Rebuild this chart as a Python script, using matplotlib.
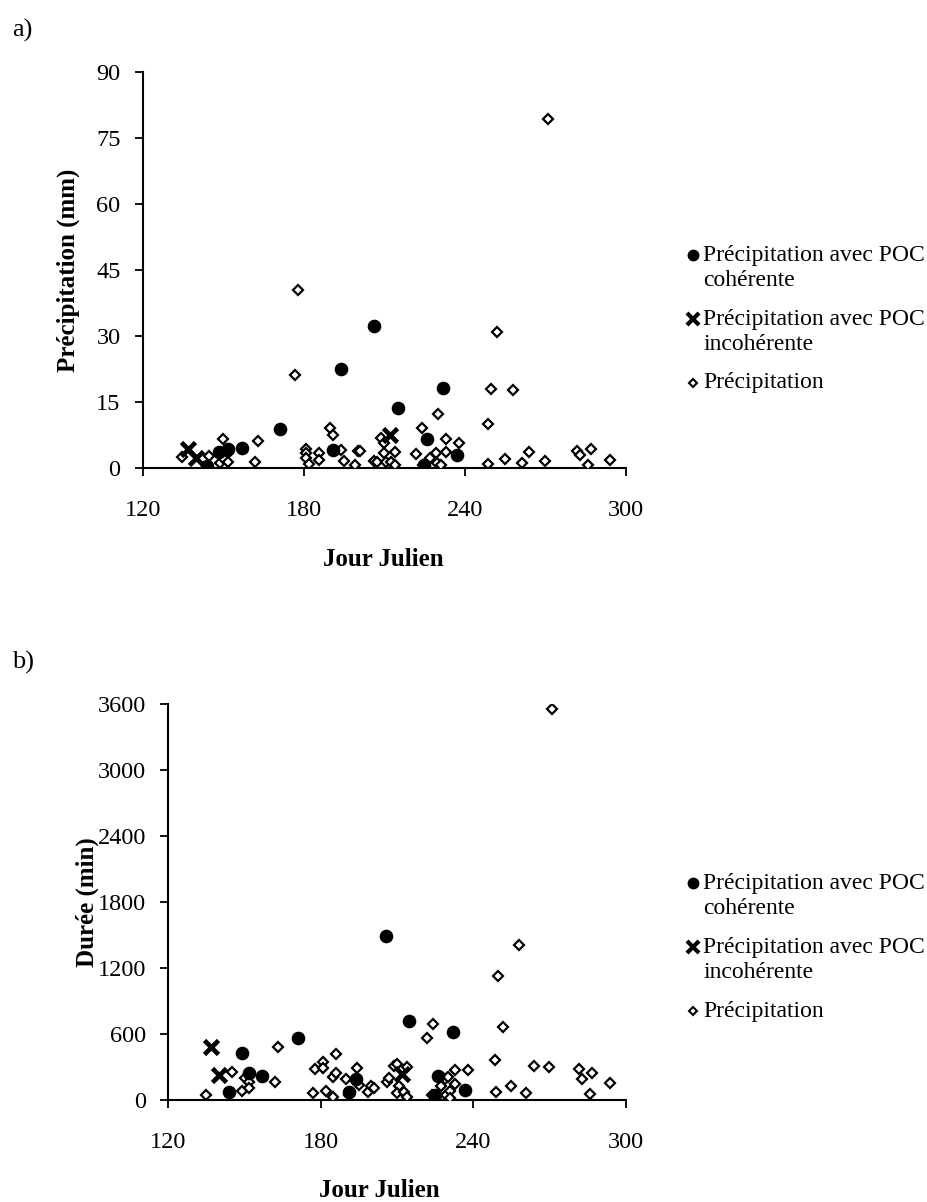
import matplotlib
matplotlib.use("Agg")
import matplotlib.pyplot as plt
from matplotlib.lines import Line2D

plt.rcParams['font.family'] = ['Liberation Serif', 'DejaVu Serif']

# ---------------- Panel a : Précipitation (mm) ----------------
a_coh_day = [144.1, 148.3, 151.9, 156.9, 171.0, 190.8, 193.9, 206.0, 215.0, 225.8, 224.8, 232.0, 237.1]
a_coh_val = [0.5, 3.6, 4.5, 4.6, 8.9, 4.2, 22.5, 32.4, 13.6, 6.7, 0.7, 18.2, 3.0]

a_inc_day = [136.8, 139.9, 212.1]
a_inc_val = [4.5, 2.3, 7.6]

a_pre_day = [134.8, 144.8, 148.8, 149.8, 150.0, 151.9, 151.7, 161.8, 162.8, 176.9,
             178.0, 180.8, 180.8, 180.8, 181.8, 185.7, 185.7, 189.8, 190.9, 193.9,
             195.0, 199.1, 200.1, 200.9, 206.1, 207.1, 208.7, 209.9, 209.9, 210.6,
             212.5, 213.8, 213.8, 221.8, 223.9, 224.5, 227.0, 229.1, 229.5, 230.1,
             231.0, 233.1, 233.1, 237.9, 248.7, 248.7, 249.9, 251.8, 254.9, 258.0,
             261.1, 264.0, 269.8, 270.8, 281.6, 282.8, 286.0, 286.8, 293.9]
a_pre_val = [2.5, 2.8, 1.3, 6.7, 2.3, 3.4, 1.5, 1.4, 6.1, 21.1,
             40.5, 4.5, 3.4, 2.4, 0.9, 3.4, 1.9, 9.1, 7.6, 4.2,
             1.7, 0.8, 4.0, 3.9, 1.7, 1.4, 7.0, 5.7, 3.4, 1.5,
             1.4, 3.6, 0.8, 3.3, 9.1, 0.8, 2.3, 3.4, 1.3, 12.3,
             0.8, 6.6, 3.6, 5.7, 10.0, 0.9, 18.0, 30.9, 2.1, 17.8,
             1.1, 3.8, 1.7, 79.3, 3.9, 3.0, 0.8, 4.4, 1.9]

# ---------------- Panel b : Durée (min) ----------------
b_coh_day = [143.9, 149.0, 151.9, 157.0, 170.9, 190.9, 193.8, 205.7, 214.8, 224.9, 225.9, 231.8, 236.8]
b_coh_val = [70, 430, 242, 221, 567, 70, 191, 1494, 718, 45, 221, 621, 91]

b_inc_day = [136.8, 139.8, 211.8]
b_inc_val = [485, 227, 236]

b_pre_day = [134.8, 144.9, 148.8, 150.2, 151.9, 151.9, 163.0, 161.8, 176.8, 177.7,
             181.0, 181.0, 181.9, 184.6, 185.9, 185.9, 184.9, 189.9, 190.9, 194.1,
             195.1, 198.7, 199.7, 200.9, 205.9, 206.9, 208.9, 209.8, 213.9, 210.9,
             209.8, 212.7, 213.7, 221.9, 224.0, 223.8, 225.0, 227.1, 228.8, 229.9,
             229.2, 230.8, 230.8, 232.9, 232.9, 237.9, 248.6, 248.9, 249.7, 251.8,
             254.8, 257.8, 260.5, 263.7, 269.8, 270.8, 281.6, 282.6, 286.8, 285.8,
             293.7]
b_pre_val = [45, 258, 82, 197, 167, 112, 485, 161, 61, 279,
             348, 288, 82, 212, 248, 418, 24, 191, 45, 294,
             136, 70, 130, 106, 161, 197, 309, 327, 303, 127,
             61, 76, 30, 567, 691, 45, 9, 127, 191, 212,
             45, 82, 15, 145, 273, 273, 364, 73, 1127, 667,
             127, 1409, 61, 309, 297, 3555, 279, 191, 242, 52,
             152]

x_ticks = [120, 180, 240, 300]
a_yticks = [0, 15, 30, 45, 60, 75, 90]
b_yticks = [0, 600, 1200, 1800, 2400, 3000, 3600]

leg_labels = [["Précipitation avec POC", "cohérente"],
              ["Précipitation avec POC", "incohérente"],
              ["Précipitation"]]

FS_TICK = 17.5
FS_LAB = 18
FS_LEG = 17
W, H = 927, 1202
fig = plt.figure(figsize=(W / 100, H / 100), dpi=100)

STYLE_PRE = dict(linestyle='none', marker='D', markerfacecolor='white',
                 markeredgecolor='black')
STYLE_COH = dict(linestyle='none', marker='o', markerfacecolor='black',
                 markeredgecolor='black')
STYLE_INC = dict(linestyle='none', marker='x', markeredgecolor='black')


def px_rect(left, right, top, bottom):
    return [left / W, 1 - bottom / H, (right - left) / W, (bottom - top) / H]


def draw_legend(top_px):
    # line centres (pixels from top): two-line entries, then single entry
    line_gap = 25.5
    entry_gap = 64
    marker_x = 693
    text_x = 703
    styles = [dict(STYLE_COH, markersize=7.5),
              dict(STYLE_INC, markersize=9, markeredgewidth=3.0),
              dict(STYLE_PRE, markersize=4.5, markeredgewidth=1.5)]
    for i, (lines, st) in enumerate(zip(leg_labels, styles)):
        y0 = top_px + i * entry_gap
        fig.add_artist(Line2D([marker_x / W], [1 - y0 / H],
                              transform=fig.transFigure, **st))
        for j, txt in enumerate(lines):
            fig.text(text_x / W, 1 - (y0 + j * line_gap) / H, txt,
                     fontsize=FS_LEG, va='center', ha='left')


def draw_panel(ax, coh_d, coh_v, inc_d, inc_v, pre_d, pre_v, yticks, ylabel,
               ylab_x, xlab_x, xlab_y):
    ax.plot(pre_d, pre_v, markersize=5.2, markeredgewidth=1.6, zorder=3, **STYLE_PRE)
    ax.plot(coh_d, coh_v, markersize=8.8, zorder=4, **STYLE_COH)
    ax.plot(inc_d, inc_v, markersize=10, markeredgewidth=3.4, zorder=5, **STYLE_INC)
    ax.set_xlim(120, 300)
    ax.set_ylim(yticks[0], yticks[-1])
    ax.set_xticks(x_ticks)
    ax.set_yticks(yticks)
    ax.set_xticklabels([str(v) for v in x_ticks], fontsize=FS_TICK)
    ax.set_yticklabels([str(v) for v in yticks], fontsize=FS_TICK)
    ax.tick_params(axis='x', direction='out', length=6, width=1.3, pad=17)
    ax.tick_params(axis='y', direction='out', length=6, width=1.3, pad=10)
    for s in ['top', 'right']:
        ax.spines[s].set_visible(False)
    for s in ['left', 'bottom']:
        ax.spines[s].set_linewidth(1.5)
    ax.set_ylabel(ylabel, fontsize=FS_LAB, fontweight='bold')
    ax.set_xlabel("Jour Julien", fontsize=FS_LAB, fontweight='bold')
    ax.yaxis.set_label_coords(ylab_x, 0.5)
    ax.xaxis.set_label_coords(xlab_x, xlab_y)


ax_a = fig.add_axes(px_rect(142.7, 626, 72.3, 468.3))
draw_panel(ax_a, a_coh_day, a_coh_val, a_inc_day, a_inc_val, a_pre_day, a_pre_val,
           a_yticks, "Précipitation (mm)", -0.13, 0.497, -0.202)
draw_legend(255)

ax_b = fig.add_axes(px_rect(168.3, 626, 704, 1100))
draw_panel(ax_b, b_coh_day, b_coh_val, b_inc_day, b_inc_val, b_pre_day, b_pre_val,
           b_yticks, "Durée (min)", -0.151, 0.46, -0.2)
draw_legend(883)

fig.text(12 / W, 1 - 30 / H, "a)", fontsize=19, va='center', ha='left')
fig.text(12 / W, 1 - 662 / H, "b)", fontsize=19, va='center', ha='left')

fig.savefig("out.png", dpi=100)
